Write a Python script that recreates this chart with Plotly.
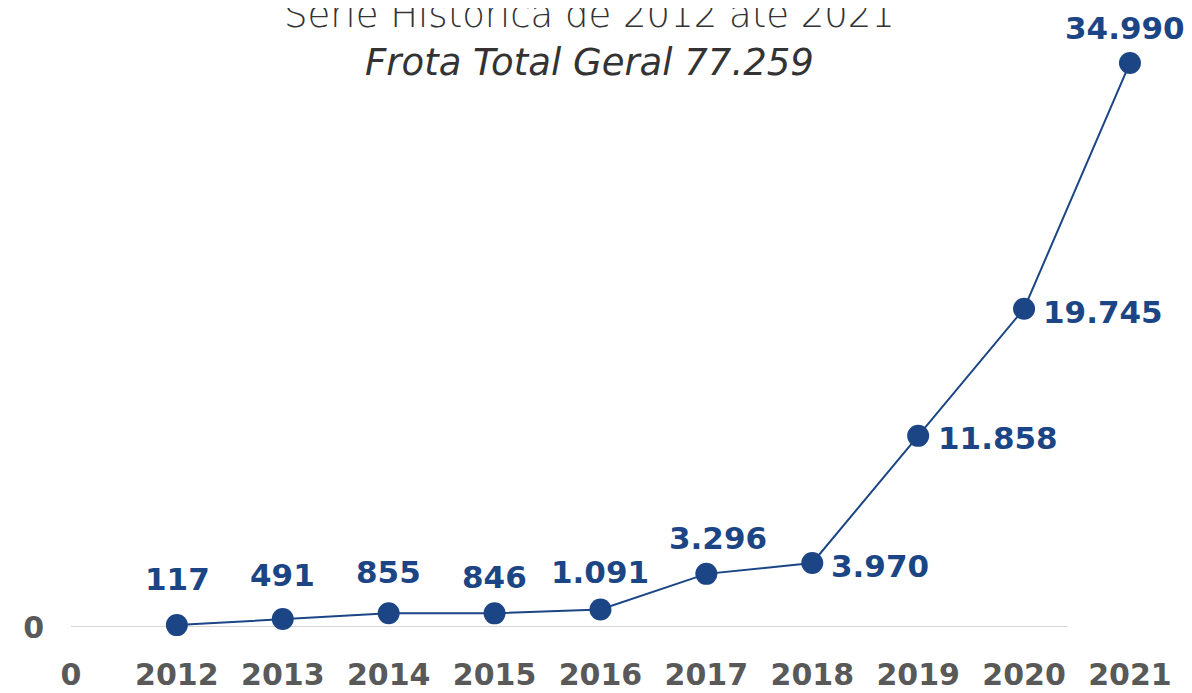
import plotly.graph_objects as go

# dados da série histórica
anos = ["0", "2012", "2013", "2014", "2015", "2016", "2017", "2018", "2019", "2020", "2021"]
frota = [None, 117, 491, 855, 846, 1091, 3296, 3970, 11858, 19745, 34990]
rotulos = ["", "117", "491", "855", "846", "1.091", "3.296", "3.970", "11.858", "19.745", "34.990"]

titulo = "Série Histórica de 2012 até 2021"
subtitulo = "<i>Frota Total Geral 77.259</i>"

azul = "#1b4585"
cinza = "#595959"

fig = go.Figure()
fig.add_trace(go.Scatter(
    x=list(range(len(anos))),
    y=frota,
    mode="lines+markers",
    line=dict(color=azul, width=2),
    marker=dict(color=azul, size=22),
    cliponaxis=False,
    connectgaps=False,
))

# posição de cada rótulo (deslocamento em px)
desloc = {
    1: (1, 46), 2: (0, 44), 3: (0, 41), 4: (0, 36), 5: (0, 37),
    6: (12, 36), 7: (68, -3), 8: (80, -2), 9: (79, -3), 10: (-5, 35),
}
for i, (v, r) in enumerate(zip(frota, rotulos)):
    if v is None:
        continue
    dx, dy = desloc[i]
    fig.add_annotation(
        x=i, y=v, xref="x", yref="y", text="<b>%s</b>" % r,
        showarrow=False, xshift=dx, yshift=dy,
        font=dict(family="DejaVu Sans", size=31, color=azul),
    )

# linha do zero
fig.add_shape(type="line", xref="x", yref="y", x0=0, x1=9.41, y0=0, y1=0,
              line=dict(color="#c8c8c8", width=1.5), layer="below")

fig.add_annotation(text=titulo, xref="paper", yref="paper", x=0.481, y=1.0426,
                   showarrow=False, yanchor="middle",
                   font=dict(family="DejaVu Sans", size=37, color="#333333", weight=200))
fig.add_annotation(text=subtitulo, xref="paper", yref="paper", x=0.481, y=0.9625,
                   showarrow=False, yanchor="middle",
                   font=dict(family="DejaVu Sans", size=37, color="#333333", weight=200))

fig.update_layout(
    width=1184,
    height=685,
    margin=dict(l=42, r=20, t=32, b=66),
    plot_bgcolor="white",
    paper_bgcolor="white",
    showlegend=False,
    xaxis=dict(
        range=[-0.198, 10.397],
        tickmode="array",
        tickvals=list(range(len(anos))),
        ticktext=["<b>%s</b>" % a for a in anos],
        tickfont=dict(family="DejaVu Sans", size=30, color=cinza),
        showgrid=False, zeroline=False, showline=False,
        ticklabelstandoff=27, automargin=False,
    ),
    yaxis=dict(
        range=[0, 36414],
        tickmode="array",
        tickvals=[0],
        ticktext=["<b>0</b>"],
        tickfont=dict(family="DejaVu Sans", size=30, color=cinza),
        showgrid=False, zeroline=False, showline=False,
        ticklabelstandoff=5, automargin=False,
    ),
)

fig.write_html("out.html")
